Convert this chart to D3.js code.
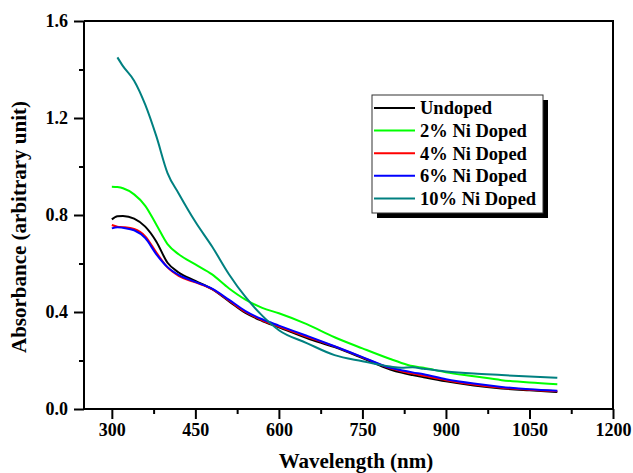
<!DOCTYPE html>
<html><head><meta charset="utf-8">
<script src="https://cdn.jsdelivr.net/npm/d3@7"></script>
<style>body{margin:0;background:#fff}svg{display:block}</style>
</head><body>
<svg id="c" width="633" height="473"></svg>
<script>
const wavelengths = [300,310,320,340,360,380,400,420,450,480,510,540,570,600,650,700,750,800,820,840,860,900,950,1000,1050,1100];
const undoped  = [0.782,0.795,0.796,0.785,0.752,0.690,0.603,0.563,0.528,0.494,0.445,0.396,0.363,0.337,0.293,0.255,0.210,0.163,0.150,0.140,0.131,0.114,0.097,0.085,0.077,0.070];
const ni2      = [0.917,0.915,0.910,0.885,0.838,0.760,0.680,0.638,0.596,0.555,0.498,0.451,0.417,0.395,0.350,0.296,0.250,0.206,0.190,0.177,0.170,0.151,0.135,0.119,0.109,0.102];
const ni4      = [0.759,0.752,0.750,0.742,0.712,0.645,0.584,0.549,0.522,0.494,0.448,0.400,0.366,0.340,0.298,0.258,0.213,0.168,0.156,0.146,0.137,0.119,0.101,0.088,0.079,0.073];
const ni6      = [0.745,0.750,0.747,0.737,0.705,0.638,0.585,0.553,0.524,0.496,0.451,0.404,0.370,0.344,0.302,0.259,0.214,0.170,0.160,0.151,0.143,0.123,0.105,0.091,0.081,0.075];
const ni10     = [null,1.450,1.414,1.354,1.255,1.124,0.973,0.889,0.772,0.670,0.557,0.462,0.385,0.325,0.272,0.222,0.197,0.175,0.170,0.172,0.166,0.155,0.146,0.140,0.134,0.129];
const seriesNames = ["Undoped","2% Ni Doped","4% Ni Doped","6% Ni Doped","10% Ni Doped"];
const seriesColors = ["#000000","#00ff00","#ff0000","#0000ff","#008080"];
const seriesValues = [undoped, ni2, ni4, ni6, ni10];
const xTicks = [300,450,600,750,900,1050,1200];
const xMinor = [375,525,675,825,975,1125];
const yTicks = [0.0,0.4,0.8,1.2,1.6];
const yMinor = [0.2,0.6,1.0,1.4];

const svg = d3.select("#c");
const L=84, R=613, T=21, B=409;
const x = d3.scaleLinear().domain([250,1200]).range([L,R]);
const y = d3.scaleLinear().domain([0,1.6]).range([B,T]);
const font = "'Liberation Serif','Times New Roman',serif";

// frame top/right
svg.append("path").attr("d",`M${L},${T}H${R}V${B}`).attr("fill","none").attr("stroke","#000").attr("stroke-width",2);

// lines
const line = d3.line().defined(d=>d[1]!=null).x(d=>x(d[0])).y(d=>y(d[1])).curve(d3.curveMonotoneX);
seriesValues.forEach((vals,i)=>{
  const pts = wavelengths.map((w,j)=>[w,vals[j]]);
  svg.append("path").attr("d",line(pts)).attr("fill","none")
    .attr("stroke",seriesColors[i]).attr("stroke-width",2).attr("stroke-linejoin","round");
});

// x axis
const gx = svg.append("g").attr("transform",`translate(0,${B})`);
gx.call(d3.axisBottom(x).tickValues(xTicks).tickSize(10).tickPadding(4).tickFormat(d3.format("d")));
gx.append("g").call(d3.axisBottom(x).tickValues(xMinor).tickSize(5).tickFormat(""));
// y axis
const gy = svg.append("g").attr("transform",`translate(${L},0)`);
gy.call(d3.axisLeft(y).tickValues(yTicks).tickSize(10).tickPadding(6).tickFormat(d3.format(".1f")));
gy.append("g").call(d3.axisLeft(y).tickValues(yMinor).tickSize(5).tickFormat(""));
svg.selectAll(".domain").attr("stroke","#000").attr("stroke-width",2);
svg.selectAll(".tick line").attr("stroke","#000").attr("stroke-width",2);
svg.selectAll(".tick text").attr("font-family",font).attr("font-weight","bold").attr("font-size",18).attr("fill","#000");
gx.selectAll(".domain").attr("d",`M${L},0H${R}`);
gy.selectAll(".domain").attr("d",`M0,${B}V${T}`);

// titles
svg.append("text").attr("x",356).attr("y",468).attr("text-anchor","middle")
  .attr("font-family",font).attr("font-weight","bold").attr("font-size",21).text("Wavelength (nm)");
svg.append("text").attr("transform","translate(26,227) rotate(-90)").attr("text-anchor","middle")
  .attr("font-family",font).attr("font-weight","bold").attr("font-size",21).text("Absorbance (arbitrary unit)");

// legend
const lg = svg.append("g");
lg.append("rect").attr("x",377).attr("y",100).attr("width",171).attr("height",118).attr("fill","#000");
lg.append("rect").attr("x",372).attr("y",95).attr("width",171).attr("height",118).attr("fill","#fff").attr("stroke","#333").attr("stroke-width",1);
seriesNames.forEach((n,i)=>{
  const yy = 108 + i*22.6;
  lg.append("line").attr("x1",374).attr("x2",415).attr("y1",yy).attr("y2",yy).attr("stroke",seriesColors[i]).attr("stroke-width",2);
  lg.append("text").attr("x",420).attr("y",yy).attr("dy","0.35em").attr("font-family",font).attr("font-weight","bold").attr("font-size",18.5).text(n);
});
</script>
</body></html>
